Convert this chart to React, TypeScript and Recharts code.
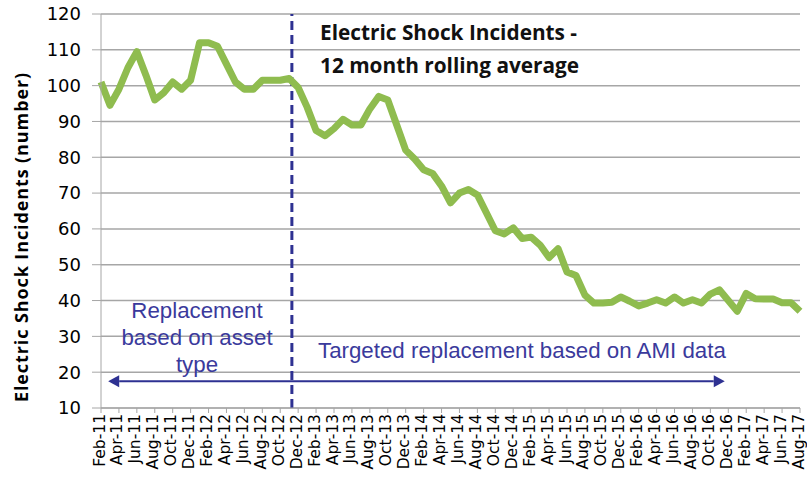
import React from "react";
import { LineChart, Line, XAxis, YAxis, CartesianGrid, ReferenceLine } from "recharts";

const months = [
  "Feb-11", "Mar-11", "Apr-11", "May-11", "Jun-11", "Jul-11", "Aug-11", "Sep-11", "Oct-11", "Nov-11", "Dec-11",
  "Jan-12", "Feb-12", "Mar-12", "Apr-12", "May-12", "Jun-12", "Jul-12", "Aug-12", "Sep-12", "Oct-12", "Nov-12", "Dec-12",
  "Jan-13", "Feb-13", "Mar-13", "Apr-13", "May-13", "Jun-13", "Jul-13", "Aug-13", "Sep-13", "Oct-13", "Nov-13", "Dec-13",
  "Jan-14", "Feb-14", "Mar-14", "Apr-14", "May-14", "Jun-14", "Jul-14", "Aug-14", "Sep-14", "Oct-14", "Nov-14", "Dec-14",
  "Jan-15", "Feb-15", "Mar-15", "Apr-15", "May-15", "Jun-15", "Jul-15", "Aug-15", "Sep-15", "Oct-15", "Nov-15", "Dec-15",
  "Jan-16", "Feb-16", "Mar-16", "Apr-16", "May-16", "Jun-16", "Jul-16", "Aug-16", "Sep-16", "Oct-16", "Nov-16", "Dec-16",
  "Jan-17", "Feb-17", "Mar-17", "Apr-17", "May-17", "Jun-17", "Jul-17", "Aug-17",
];

// 12 month rolling average
const incidents = [
  101, 94.5, 99, 105, 109.5, 103, 96, 98, 101, 99, 101.5,
  112, 112, 111, 106, 101, 99, 99, 101.5, 101.5, 101.5, 102, 99.5,
  94, 87.5, 86, 88, 90.6, 89, 89, 93.5, 97, 96, 89, 82,
  79.5, 76.5, 75.5, 72, 67.3, 70, 71, 69.5, 64.5, 59.5, 58.6, 60.3,
  57.3, 57.7, 55.5, 52, 54.5, 48, 47, 41.5, 39.3, 39.3, 39.5, 41,
  39.8, 38.5, 39.3, 40.2, 39.3, 41, 39.3, 40.2, 39.3, 41.8, 43, 40,
  37, 42, 40.5, 40.4, 40.4, 39.4, 39.4, 37,
];

const yTicks = [10, 20, 30, 40, 50, 60, 70, 80, 90, 100, 110, 120];
const xTicks = months.map((_, i) => i).filter((i) => i % 2 === 0);

// where the AMI programme starts, and the extent of the arrow (month index / value)
const switchover = 21.3;
const arrowFrom = 0.8;
const arrowTo = 69.6;
const arrowLevel = 17.5;

const data = months.map((m, i) => ({ idx: i, month: m, incidents: incidents[i] }));

const navy = "#2e3192";
const annot = "#3a3a9c";
const green = "#8fbc4f";

function Arrow(props: any) {
  const { x1, y1, x2, y2 } = props;
  const h = 11;
  const w = 6;
  return (
    <g>
      <line x1={x1 + h} y1={y1} x2={x2 - h} y2={y2} stroke={navy} strokeWidth={2} />
      <polygon points={`${x1},${y1} ${x1 + h},${y1 - w} ${x1 + h},${y1 + w}`} fill={navy} />
      <polygon points={`${x2},${y2} ${x2 - h},${y2 - w} ${x2 - h},${y2 + w}`} fill={navy} />
    </g>
  );
}

function MonthTick(props: any) {
  const { payload } = props;
  const x = props.x - 1.5;
  const y = props.y;
  return (
    <text
      x={x}
      y={y}
      transform={`rotate(-90, ${x}, ${y})`}
      textAnchor="end"
      dominantBaseline="central"
      fontSize={15.5}
      fontFamily="DejaVu Sans"
      fill="#000"
    >
      {months[payload.value]}
    </text>
  );
}

export default function App() {
  return (
    <div style={{ position: "absolute", left: 0, top: 0, width: 807, height: 479, background: "#fff" }}>
      <LineChart width={807} height={479} data={data} margin={{ top: 14, right: 7, bottom: 0, left: 0 }}>
        <CartesianGrid vertical={false} stroke="#a6a6a6" strokeWidth={1.5} />
        <XAxis
          dataKey="idx"
          type="number"
          domain={[0, 78]}
          ticks={xTicks}
          interval={0}
          height={71}
          tickSize={5}
          tickMargin={1}
          stroke="#a6a6a6"
          tick={<MonthTick />}
        />
        <YAxis
          domain={[10, 120]}
          ticks={yTicks}
          interval={0}
          width={101}
          tickSize={9}
          tickMargin={11}
          stroke="#a6a6a6"
          tick={{ fontSize: 18, fill: "#000", fontFamily: "DejaVu Sans" }}
          label={{
            value: "Electric Shock Incidents (number)",
            angle: -90,
            position: "center",
            dx: -29,
            dy: 26,
            style: { fontSize: 18, fontWeight: 700, fill: "#000", fontFamily: "Open Sans", letterSpacing: 0.9 },
          }}
        />
        <ReferenceLine x={switchover} stroke={navy} strokeWidth={3} strokeDasharray="9 5" />
        <ReferenceLine
          segment={[{ x: arrowFrom, y: arrowLevel }, { x: arrowTo, y: arrowLevel }]}
          shape={Arrow}
          ifOverflow="visible"
        />
        <Line
          dataKey="incidents"
          type="linear"
          stroke={green}
          strokeWidth={7}
          strokeLinejoin="round"
          dot={false}
          isAnimationActive={false}
        />
      </LineChart>
      <div style={{ position: "absolute", left: 320, top: 16, fontFamily: "Open Sans", fontWeight: 700, fontSize: 20.8, lineHeight: "33px", color: "#111" }}>
        <div>Electric Shock Incidents -</div>
        <div>12 month rolling average</div>
      </div>
      <div style={{ position: "absolute", left: 87, width: 220, top: 297, textAlign: "center", fontFamily: "Liberation Sans", fontSize: 22.3, lineHeight: "27px", color: annot }}>
        <div>Replacement</div>
        <div>based on asset</div>
        <div>type</div>
      </div>
      <div style={{ position: "absolute", left: 318, top: 337, fontFamily: "Liberation Sans", fontSize: 22.3, lineHeight: "27px", color: annot, whiteSpace: "nowrap" }}>
        Targeted replacement based on AMI data
      </div>
    </div>
  );
}
